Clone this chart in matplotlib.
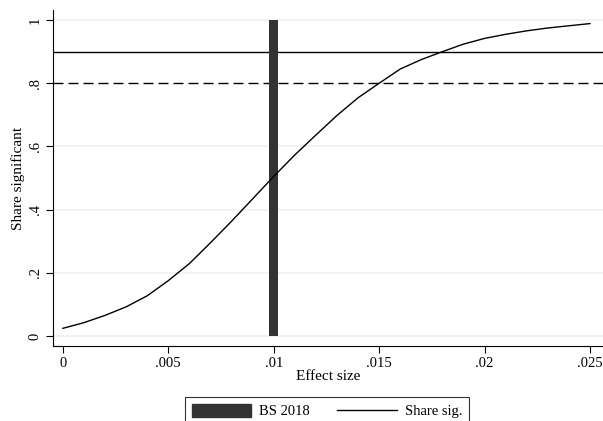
import numpy as np
import matplotlib.pyplot as plt
from matplotlib.patches import Patch
from matplotlib.lines import Line2D

# power curve
effect = [0.000, 0.001, 0.002, 0.003, 0.004, 0.005, 0.006, 0.007, 0.008, 0.009,
          0.010, 0.011, 0.012, 0.013, 0.014, 0.015, 0.016, 0.017, 0.018, 0.019,
          0.020, 0.021, 0.022, 0.023, 0.024, 0.025]
share_sig = [0.024, 0.042, 0.065, 0.092, 0.127, 0.175, 0.229, 0.295, 0.363, 0.434,
             0.505, 0.573, 0.636, 0.698, 0.754, 0.800, 0.845, 0.875, 0.900, 0.924,
             0.942, 0.955, 0.966, 0.975, 0.982, 0.989]

# BS 2018 estimate
bs_x = [0.01]
bs_h = [1.0]

power_lines = [0.9, 0.8]
xticks = [0, 0.005, 0.01, 0.015, 0.02, 0.025]
xticklabels = ['0', '.005', '.01', '.015', '.02', '.025']
yticks = [0, 0.2, 0.4, 0.6, 0.8, 1.0]
yticklabels = ['0', '.2', '.4', '.6', '.8', '1']

plt.rcParams['font.family'] = ['Liberation Serif', 'DejaVu Serif']

fig = plt.figure(figsize=(6.03, 4.21), dpi=100)
ax = fig.add_axes([53 / 603, 75 / 421, 550 / 603, 336 / 421])

for y in [0, 0.2, 0.4, 0.6, 1.0]:
    ax.axhline(y, color='#eaf2f3', lw=1.2, zorder=0)

ax.bar(bs_x, bs_h, width=0.00043, color='#333333', zorder=3)
ax.plot(effect, share_sig, color='black', lw=1.0, zorder=4)
ax.axhline(power_lines[0], color='black', lw=1.0, zorder=2)
ax.axhline(power_lines[1], color='black', lw=1.0, ls=(0, (7.2, 3.6)), zorder=2)

ax.set_xlim(-0.00047, 0.02562)
ax.set_ylim(-0.032, 1.032)
ax.set_xticks(xticks)
ax.set_xticklabels(xticklabels)
ax.set_yticks(yticks)
ax.set_yticklabels(yticklabels, rotation=90, va='center')
ax.tick_params(direction='out', length=5, width=0.8, labelsize=10.5, pad=3)
ax.spines['top'].set_visible(False)
ax.spines['right'].set_visible(False)
ax.set_xlabel('Effect size', fontsize=11, labelpad=0)
ax.set_ylabel('Share significant', fontsize=11, labelpad=3)

handles = [Patch(facecolor='#333333', edgecolor='#333333'),
           Line2D([0], [0], color='black', lw=1.0)]
leg = fig.legend(handles, ['BS 2018', 'Share sig.'], loc='upper center',
                 bbox_to_anchor=(327 / 603, 1 - 390 / 421), ncol=2,
                 frameon=True, fancybox=False, edgecolor='black', fontsize=10.5,
                 handlelength=4.1, handleheight=1.0, handletextpad=0.55,
                 columnspacing=1.85, borderpad=0.45, borderaxespad=0.5)
leg.get_frame().set_linewidth(0.8)

fig.savefig('out.png', dpi=100)
